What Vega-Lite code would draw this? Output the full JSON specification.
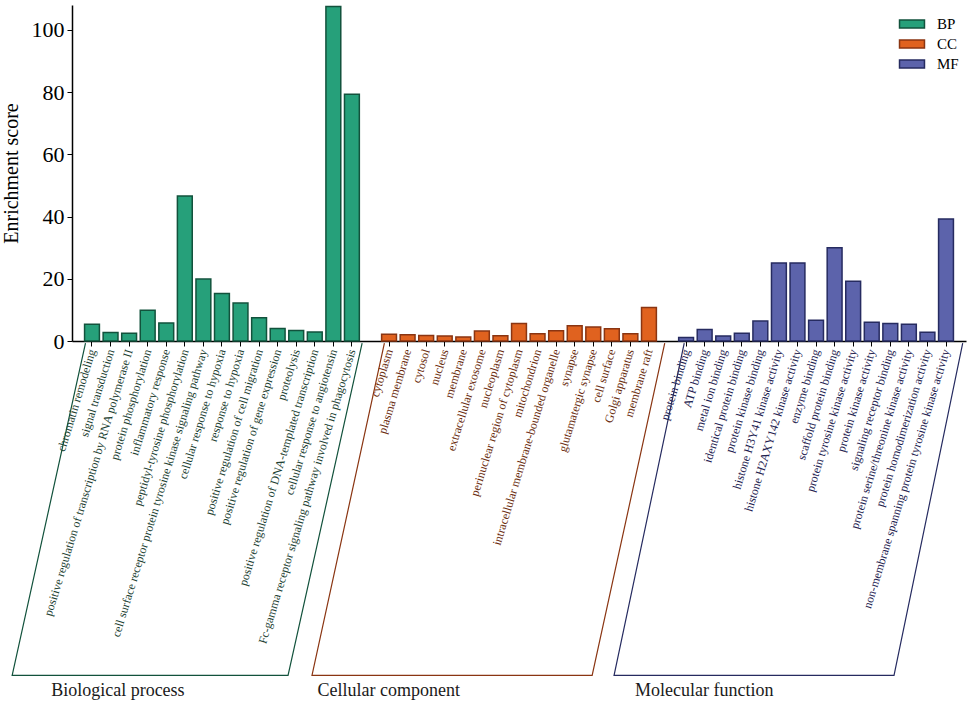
{
  "$schema": "https://vega.github.io/schema/vega-lite/v6.json",
  "width": 894,
  "height": 336,
  "autosize": {"type": "none"},
  "padding": {"left": 72, "top": 5, "right": 3, "bottom": 362},
  "background": "white",
  "config": {
    "font": "Liberation Serif",
    "view": {"stroke": null},
    "axis": {"labelFont": "Liberation Serif", "titleFont": "Liberation Serif", "domainColor": "#000", "tickColor": "#000", "labelColor": "#000", "titleColor": "#000", "grid": false},
    "legend": {"labelFont": "Liberation Serif"},
    "text": {"font": "Liberation Serif"}
  },
  "datasets": {
    "terms": [
      {"group": "BP", "term": "chromatin remodeling", "score": 5.4},
      {"group": "BP", "term": "signal transduction", "score": 2.7},
      {"group": "BP", "term": "positive regulation of transcription by RNA polymerase II", "score": 2.5},
      {"group": "BP", "term": "protein phosphorylation", "score": 9.9},
      {"group": "BP", "term": "inflammatory response", "score": 5.8},
      {"group": "BP", "term": "peptidyl-tyrosine phosphorylation", "score": 46.6},
      {"group": "BP", "term": "cell surface receptor protein tyrosine kinase signaling pathway", "score": 19.9},
      {"group": "BP", "term": "cellular response to hypoxia", "score": 15.3},
      {"group": "BP", "term": "response to hypoxia", "score": 12.2},
      {"group": "BP", "term": "positive regulation of cell migration", "score": 7.5},
      {"group": "BP", "term": "positive regulation of gene expression", "score": 4.0},
      {"group": "BP", "term": "proteolysis", "score": 3.4},
      {"group": "BP", "term": "positive regulation of DNA-templated transcription", "score": 2.9},
      {"group": "BP", "term": "cellular response to angiotensin", "score": 107.5},
      {"group": "BP", "term": "Fc-gamma receptor signaling pathway involved in phagocytosis", "score": 79.3},
      {"group": "CC", "term": "cytoplasm", "score": 2.2},
      {"group": "CC", "term": "plasma membrane", "score": 2.0},
      {"group": "CC", "term": "cytosol", "score": 1.8},
      {"group": "CC", "term": "nucleus", "score": 1.6},
      {"group": "CC", "term": "membrane", "score": 1.3},
      {"group": "CC", "term": "extracellular exosome", "score": 3.2},
      {"group": "CC", "term": "nucleoplasm", "score": 1.7},
      {"group": "CC", "term": "perinuclear region of cytoplasm", "score": 5.6},
      {"group": "CC", "term": "mitochondrion", "score": 2.3},
      {"group": "CC", "term": "intracellular membrane-bounded organelle", "score": 3.3},
      {"group": "CC", "term": "synapse", "score": 4.9},
      {"group": "CC", "term": "glutamatergic synapse", "score": 4.5},
      {"group": "CC", "term": "cell surface", "score": 3.9},
      {"group": "CC", "term": "Golgi apparatus", "score": 2.3},
      {"group": "CC", "term": "membrane raft", "score": 10.8},
      {"group": "MF", "term": "protein binding", "score": 1.1},
      {"group": "MF", "term": "ATP binding", "score": 3.7},
      {"group": "MF", "term": "metal ion binding", "score": 1.6},
      {"group": "MF", "term": "identical protein binding", "score": 2.5},
      {"group": "MF", "term": "protein kinase binding", "score": 6.4},
      {"group": "MF", "term": "histone H3Y41 kinase activity", "score": 25.1},
      {"group": "MF", "term": "histone H2AXY142 kinase activity", "score": 25.1},
      {"group": "MF", "term": "enzyme binding", "score": 6.7},
      {"group": "MF", "term": "scaffold protein binding", "score": 30.0},
      {"group": "MF", "term": "protein tyrosine kinase activity", "score": 19.2},
      {"group": "MF", "term": "protein kinase activity", "score": 6.0},
      {"group": "MF", "term": "signaling receptor binding", "score": 5.6},
      {"group": "MF", "term": "protein serine/threonine kinase activity", "score": 5.4},
      {"group": "MF", "term": "protein homodimerization activity", "score": 2.8},
      {"group": "MF", "term": "non-membrane spanning protein tyrosine kinase activity", "score": 39.2}
    ],
    "brackets": [
      {"group": "BP", "pt": 1, "slot": -0.35, "score": -0.7},
      {"group": "BP", "pt": 2, "slot": -4.3, "score": -107.5},
      {"group": "BP", "pt": 3, "slot": 10.56, "score": -107.5},
      {"group": "BP", "pt": 4, "slot": 14.55, "score": -0.7},
      {"group": "CC", "pt": 1, "slot": 15.75, "score": -0.7},
      {"group": "CC", "pt": 2, "slot": 11.85, "score": -107.5},
      {"group": "CC", "pt": 3, "slot": 26.94, "score": -107.5},
      {"group": "CC", "pt": 4, "slot": 30.85, "score": -0.7},
      {"group": "MF", "pt": 1, "slot": 31.9, "score": -0.7},
      {"group": "MF", "pt": 2, "slot": 28.12, "score": -107.5},
      {"group": "MF", "pt": 3, "slot": 43.2, "score": -107.5},
      {"group": "MF", "pt": 4, "slot": 46.9, "score": -0.7}
    ],
    "groupNames": [
      {"group": "BP", "name": "Biological process", "slot": -2.2, "score": -112.5},
      {"group": "CC", "name": "Cellular component", "slot": 12.15, "score": -112.5},
      {"group": "MF", "name": "Molecular function", "slot": 29.25, "score": -112.5}
    ]
  },
  "layer": [
    {
      "data": {"name": "terms"},
      "mark": {"type": "bar", "strokeWidth": 1.5},
      "encoding": {
        "x": {
          "field": "term",
          "type": "nominal",
          "sort": null,
          "title": null,
          "scale": {
            "domain": [
              "chromatin remodeling", "signal transduction", "positive regulation of transcription by RNA polymerase II", "protein phosphorylation", "inflammatory response", "peptidyl-tyrosine phosphorylation", "cell surface receptor protein tyrosine kinase signaling pathway", "cellular response to hypoxia", "response to hypoxia", "positive regulation of cell migration", "positive regulation of gene expression", "proteolysis", "positive regulation of DNA-templated transcription", "cellular response to angiotensin", "Fc-gamma receptor signaling pathway involved in phagocytosis",
              " ",
              "cytoplasm", "plasma membrane", "cytosol", "nucleus", "membrane", "extracellular exosome", "nucleoplasm", "perinuclear region of cytoplasm", "mitochondrion", "intracellular membrane-bounded organelle", "synapse", "glutamatergic synapse", "cell surface", "Golgi apparatus", "membrane raft",
              "  ",
              "protein binding", "ATP binding", "metal ion binding", "identical protein binding", "protein kinase binding", "histone H3Y41 kinase activity", "histone H2AXY142 kinase activity", "enzyme binding", "scaffold protein binding", "protein tyrosine kinase activity", "protein kinase activity", "signaling receptor binding", "protein serine/threonine kinase activity", "protein homodimerization activity", "non-membrane spanning protein tyrosine kinase activity"
            ],
            "paddingInner": 0.2,
            "paddingOuter": 0.677
          },
          "axis": {
            "labelAngle": -73,
            "labelFont": "Liberation Serif",
            "labelFontSize": 12,
            "labelLimit": 500,
            "labelPadding": 3,
            "tickSize": 5,
            "domainWidth": 1.5,
            "tickOpacity": {"condition": {"test": "trim(datum.value) === ''", "value": 0}, "value": 1},
            "labelColor": {
              "condition": [
                {"test": "indexof(['cytoplasm','plasma membrane','cytosol','nucleus','membrane','extracellular exosome','nucleoplasm','perinuclear region of cytoplasm','mitochondrion','intracellular membrane-bounded organelle','synapse','glutamatergic synapse','cell surface','Golgi apparatus','membrane raft'], datum.value) >= 0", "value": "#6a2c0e"},
                {"test": "indexof(['protein binding','ATP binding','metal ion binding','identical protein binding','protein kinase binding','histone H3Y41 kinase activity','histone H2AXY142 kinase activity','enzyme binding','scaffold protein binding','protein tyrosine kinase activity','protein kinase activity','signaling receptor binding','protein serine/threonine kinase activity','protein homodimerization activity','non-membrane spanning protein tyrosine kinase activity'], datum.value) >= 0", "value": "#1e2250"}
              ],
              "value": "#1d3f33"
            }
          }
        },
        "y": {
          "field": "score",
          "type": "quantitative",
          "title": "Enrichment score",
          "scale": {"domain": [0, 108], "nice": false, "zero": false},
          "axis": {"values": [0, 20, 40, 60, 80, 100], "labelFont": "Liberation Serif", "titleFont": "Liberation Serif", "labelFontSize": 22, "titleFontSize": 20, "titleFontWeight": "normal", "tickSize": 5, "domainWidth": 1.5, "labelPadding": 3, "titlePadding": 10}
        },
        "fill": {
          "field": "group",
          "type": "nominal",
          "title": null,
          "scale": {"domain": ["BP", "CC", "MF"], "range": ["#26a07a", "#e0621f", "#5c63ab"]},
          "legend": {
            "orient": "none",
            "legendX": 831,
            "legendY": 10,
            "padding": 0,
            "symbolType": "M-1.56,-0.5 L1.56,-0.5 L1.56,0.5 L-1.56,0.5 Z",
            "symbolSize": 256,
            "symbolStrokeWidth": 1.5,
            "labelFont": "Liberation Serif",
            "labelFontSize": 15,
            "labelOffset": 16,
            "rowPadding": 3,
            "labelColor": "#000"
          }
        },
        "stroke": {
          "field": "group",
          "type": "nominal",
          "title": null,
          "scale": {"domain": ["BP", "CC", "MF"], "range": ["#12523c", "#8a3512", "#262b60"]},
          "legend": {
            "orient": "none",
            "legendX": 831,
            "legendY": 10,
            "padding": 0,
            "symbolType": "M-1.56,-0.5 L1.56,-0.5 L1.56,0.5 L-1.56,0.5 Z",
            "symbolSize": 256,
            "symbolStrokeWidth": 1.5,
            "labelFont": "Liberation Serif",
            "labelFontSize": 15,
            "labelOffset": 16,
            "rowPadding": 3,
            "labelColor": "#000"
          }
        }
      }
    },
    {
      "data": {"name": "brackets"},
      "mark": {"type": "line", "strokeWidth": 1.2, "clip": false},
      "encoding": {
        "x": {"field": "slot", "type": "quantitative", "scale": {"domain": [-1.077, 47.077], "nice": false, "zero": false}, "axis": null},
        "y": {"field": "score", "type": "quantitative", "scale": {"domain": [0, 108], "nice": false, "zero": false}},
        "order": {"field": "pt", "type": "quantitative"},
        "stroke": {"field": "group", "type": "nominal", "legend": null},
        "detail": {"field": "group"}
      }
    },
    {
      "data": {"name": "groupNames"},
      "mark": {"type": "text", "align": "left", "baseline": "middle", "font": "Liberation Serif", "fontSize": 18, "color": "#1a1a1a"},
      "encoding": {
        "x": {"field": "slot", "type": "quantitative", "scale": {"domain": [-1.077, 47.077], "nice": false, "zero": false}, "axis": null},
        "y": {"field": "score", "type": "quantitative", "scale": {"domain": [0, 108], "nice": false, "zero": false}},
        "text": {"field": "name"}
      }
    }
  ],
  "resolve": {"scale": {"x": "independent"}}
}
